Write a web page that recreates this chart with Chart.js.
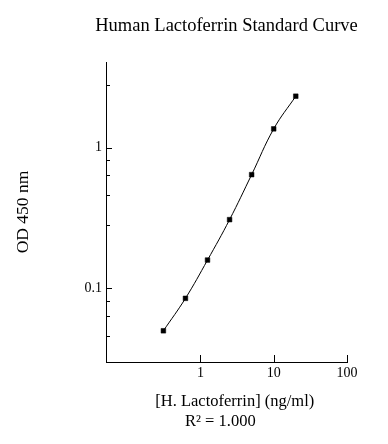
<!DOCTYPE html>
<html>
<head>
<meta charset="utf-8">
<script src="https://cdn.jsdelivr.net/npm/chart.js@4.4.0/dist/chart.umd.min.js"></script>
<style>
body{margin:0;background:#fff;}
</style>
</head>
<body>
<canvas id="myCanvas" width="388" height="444"></canvas>
<script>
// standard curve: concentration (ng/ml) vs OD 450
var conc = [0.3125, 0.625, 1.25, 2.5, 5, 10, 20];
var od = [0.050, 0.085, 0.159, 0.308, 0.643, 1.36, 2.32];
var xTicks = [1, 10, 100];
var yTicks = [0.1, 1];
var yMinorTicks = [0.046, 0.064, 0.082, 0.28, 0.46, 0.64, 0.82, 2.8];

Chart.defaults.font.family = "'Liberation Serif', 'Times New Roman', serif";
Chart.defaults.color = '#000';

var points = [];
for (var i in conc) {
	points.push({x: conc[i], y: od[i]});
}

// short inward tick marks like the original plot
var tickMarks = {
	id: 'tickMarks',
	afterLayout: function(chart){
		// title is wider than the plot, centred over the plot area
		var t = chart.titleBlock;
		if (t) { t.left = 65; t.right = 388; }
	},
	afterDraw: function(chart){
		var c = chart.ctx, xs = chart.scales.x, ys = chart.scales.y, a = chart.chartArea;
		c.save();
		c.strokeStyle = '#000';
		c.lineWidth = 1;
		c.beginPath();
		yTicks.forEach(function(v){
			var p = Math.round(ys.getPixelForValue(v)) + 0.5;
			c.moveTo(a.left, p); c.lineTo(a.left + 6, p);
		});
		yMinorTicks.forEach(function(v){
			var p = Math.round(ys.getPixelForValue(v)) + 0.5;
			c.moveTo(a.left, p); c.lineTo(a.left + 4, p);
		});
		xTicks.forEach(function(v){
			var p = Math.round(xs.getPixelForValue(v)) + 0.5;
			c.moveTo(p, a.bottom); c.lineTo(p, a.bottom - 7);
		});
		c.stroke();
		c.restore();
	}
};

var ctx = document.getElementById('myCanvas');
var graph = new Chart(ctx, {
	type: 'line',
	data: {
		datasets: [{
			data: points,
			borderColor: '#000',
			borderWidth: 1,
			tension: 0.4,
			fill: false,
			pointStyle: 'rect',
			pointRadius: 3.3,
			pointBorderWidth: 0.5,
			pointBackgroundColor: '#000',
			pointBorderColor: '#000'
		}]
	},
	options: {
		responsive: false,
		animation: false,
		devicePixelRatio: 1,
		layout: {padding: {left: 0, right: 41, top: 0, bottom: 0}},
		plugins: {
			legend: {display: false},
			tooltip: {enabled: false},
			title: {
				display: true,
				text: 'Human Lactoferrin Standard Curve',
				fullSize: false,
				font: {size: 18.5, weight: 'normal'},
				padding: {top: 15.5, bottom: 24.3}
			}
		},
		scales: {
			x: {
				type: 'logarithmic',
				min: 0.0515,
				max: 100,
				afterBuildTicks: function(s){ s.ticks = xTicks.map(function(v){ return {value: v}; }); },
				afterFit: function(s){ s.height = 82; s.paddingLeft = 0; s.paddingRight = 0; },
				grid: {display: true, drawOnChartArea: false, drawTicks: false},
				border: {display: true, color: '#000', width: 1},
				ticks: {
					padding: 3,
					maxRotation: 0,
					font: {size: 14},
					callback: function(v){ return xTicks.indexOf(v) >= 0 ? String(v) : ''; }
				},
				title: {
					display: true,
					text: ['    [H. Lactoferrin] (ng/ml)', 'R\u00b2 = 1.000   '],
					font: {size: 16.5, lineHeight: 20 / 16.5},
					padding: {top: 0, bottom: 12}
				}
			},
			y: {
				type: 'logarithmic',
				min: 0.03,
				max: 4.06,
				afterBuildTicks: function(s){ s.ticks = yTicks.map(function(v){ return {value: v}; }); },
				afterFit: function(s){ s.width = 106; s.paddingTop = 0; s.paddingBottom = 0; },
				grid: {display: true, drawOnChartArea: false, drawTicks: false},
				border: {display: true, color: '#000', width: 1},
				ticks: {
					padding: 4,
					font: {size: 14},
					callback: function(v){ return yTicks.indexOf(v) >= 0 ? String(v) : ''; }
				},
				title: {
					display: true,
					text: 'OD 450 nm',
					font: {size: 17.5},
					padding: {top: 13, bottom: 0}
				}
			}
		}
	},
	plugins: [tickMarks]
});
</script>
</body>
</html>
